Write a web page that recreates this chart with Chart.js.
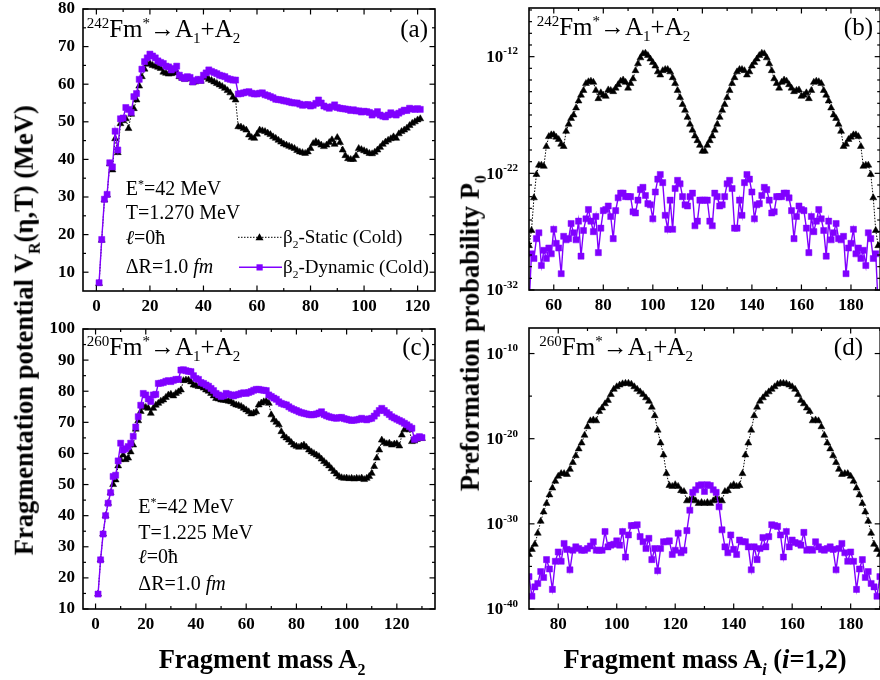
<!DOCTYPE html>
<html>
<head>
<meta charset="utf-8">
<title>Fm fragmentation potential and preformation probability</title>
<script src="https://cdn.jsdelivr.net/npm/chart.js@4.4.1/dist/chart.umd.min.js"></script>
<style>
  html, body { margin:0; padding:0; background:#fff; }
  body { width:880px; height:680px; overflow:hidden; position:relative; }
  canvas { position:absolute; }
  .t { position:absolute; font-family:"Liberation Serif","Times New Roman",serif; color:#000; white-space:nowrap; line-height:1; }
  .t sup, .t sub { font-size:0.6em; position:relative; vertical-align:baseline; line-height:0; }
  .t sup { top:-0.62em; }
  .t sub { top:0.42em; }
  .ttl { font-size:25px; }
  .par { font-size:20px; }
  .leg { font-size:19px; }
  .ax { font-size:26.5px; font-weight:bold; }
  .vt { width:600px; text-align:center; transform:rotate(-90deg); }
</style>
</head>
<body>
<canvas id="pa" width="445" height="320" style="left:0;top:0"></canvas>
<canvas id="pb" width="440" height="320" style="left:445px;top:0"></canvas>
<canvas id="pc" width="445" height="360" style="left:0;top:320px"></canvas>
<canvas id="pd" width="440" height="360" style="left:445px;top:320px"></canvas>

<!-- panel headings -->
<div class="t ttl" style="left:86.7px;top:16px"><sup>242</sup>Fm<sup>*</sup>→A<sub>1</sub>+A<sub>2</sub></div>
<div class="t ttl" style="right:452px;top:16px">(a)</div>
<div class="t ttl" style="left:536.7px;top:14px"><sup>242</sup>Fm<sup>*</sup>→A<sub>1</sub>+A<sub>2</sub></div>
<div class="t ttl" style="right:7px;top:14px">(b)</div>
<div class="t ttl" style="left:86.7px;top:334px"><sup>260</sup>Fm<sup>*</sup>→A<sub>1</sub>+A<sub>2</sub></div>
<div class="t ttl" style="right:450px;top:334px">(c)</div>
<div class="t ttl" style="left:539.3px;top:334px"><sup>260</sup>Fm<sup>*</sup>→A<sub>1</sub>+A<sub>2</sub></div>
<div class="t ttl" style="right:17px;top:334px">(d)</div>

<!-- reaction parameters -->
<div class="t par" style="left:125.7px;top:178.3px">E<sup>*</sup>=42 MeV</div>
<div class="t par" style="left:125.7px;top:201.6px">T=1.270 MeV</div>
<div class="t par" style="left:125.7px;top:227.3px"><i>ℓ</i>=0ħ</div>
<div class="t par" style="left:125.7px;top:255.6px">ΔR=1.0 <i>fm</i></div>

<div class="t par" style="left:138.3px;top:496px">E<sup>*</sup>=42 MeV</div>
<div class="t par" style="left:138.3px;top:521.6px">T=1.225 MeV</div>
<div class="t par" style="left:138.3px;top:546px"><i>ℓ</i>=0ħ</div>
<div class="t par" style="left:138.3px;top:573.3px">ΔR=1.0 <i>fm</i></div>

<!-- legend labels (symbols are drawn on the chart canvas) -->
<div class="t leg" style="left:283px;top:227px">β<sub>2</sub>-Static (Cold)</div>
<div class="t leg" style="left:283px;top:257px">β<sub>2</sub>-Dynamic (Cold)</div>

<!-- axis titles -->
<div class="t ax vt" style="left:-276px;top:317px">Fragmentation potential V<sub>R</sub>(η,T) (MeV)</div>
<div class="t ax vt" style="left:170px;top:320px">Preformation probability P<sub>0</sub></div>
<div class="t ax" style="left:62px;top:646px;width:400px;text-align:center">Fragment mass A<sub>2</sub></div>
<div class="t ax" style="left:505px;top:646px;width:400px;text-align:center">Fragment mass A<sub><i>i</i></sub> (<i>i</i>=1,2)</div>

<script>
// ---------------- data ----------------
// 242Fm* : fragmentation potential V_R (MeV) versus fragment mass A2 = 1..121
const a2Start242 = 1;
const vr242Static = [
  7.0, 18.5, 29.2, 30.5, 38.8, 37.2, 45.5, 41.8, 49.5, 50.3,
  50.8, 48.2, 52.0, 53.5, 55.8, 59.5, 62.0, 64.0, 65.3, 65.5,
  65.0, 64.8, 64.5, 64.2, 63.2, 62.9, 62.7, 62.8, 63.0, 63.3,
  62.0, 61.6, 61.3, 61.5, 61.4, 60.4, 60.6, 61.0, 60.8, 61.8,
  62.0, 61.3, 61.0, 60.6, 60.2, 59.8, 59.4, 58.9, 58.3, 57.7,
  56.5, 55.8, 48.7, 48.6, 48.2, 47.8, 46.5, 45.8, 45.6, 46.7,
  47.8, 47.6, 47.4, 47.0, 46.6, 46.0, 45.6, 45.1, 44.6, 44.1,
  43.8, 43.5, 43.2, 42.9, 42.4, 42.0, 41.8, 41.6, 42.0, 42.9,
  44.2, 44.7, 44.3, 43.8, 43.4, 43.8, 44.5, 45.2, 44.0, 45.8,
  44.5, 42.5, 41.0, 40.2, 40.0, 40.0, 41.0, 42.9, 42.6, 42.3,
  42.0, 41.6, 41.5, 41.9, 42.5, 43.2, 44.0, 44.6, 45.1, 45.5,
  46.0, 45.6, 46.8, 47.4, 47.8, 48.3, 49.0, 49.6, 50.0, 50.5, 50.8
];
const vr242Dynamic = [
  7.2, 18.7, 29.4, 30.7, 39.1, 38.0, 47.5, 42.5, 50.8, 51.0,
  53.8, 53.3, 52.5, 56.7, 57.5, 61.3, 64.0, 66.0, 67.0, 68.0,
  67.5, 67.0, 66.2, 65.8, 65.5, 64.8, 64.6, 63.8, 64.2, 64.8,
  62.4, 61.8, 61.5, 62.0, 61.8, 60.6, 61.0, 61.3, 61.0, 62.4,
  63.0, 63.8, 63.4, 63.1, 62.8, 62.4, 62.2, 62.0, 61.5, 61.3,
  61.1, 61.1, 57.4, 57.5, 57.7, 57.9, 58.0, 57.6, 57.4, 57.4,
  57.6, 57.7, 57.2, 57.0, 56.7, 56.4, 56.0, 55.9, 55.8, 55.6,
  55.5, 55.3, 55.1, 55.0, 55.0, 54.7, 54.4, 54.5, 54.6, 54.2,
  54.4, 54.9, 55.8, 55.0, 54.2, 53.9, 53.6, 54.0, 54.5, 53.8,
  53.6, 53.5, 53.4, 53.3, 53.0, 53.2, 52.9, 52.9, 52.6, 52.8,
  52.7, 52.5, 51.8, 52.2, 52.7, 51.8, 51.5, 51.3, 51.8, 52.4,
  52.0, 51.8, 52.3, 52.7, 53.1, 53.0, 53.6, 53.4, 53.3, 53.5, 53.3
];

// 260Fm* : fragmentation potential V_R (MeV) versus fragment mass A2 = 1..130
const a2Start260 = 1;
const vr260Static = [
  14.8, 25.8, 34.1, 40.0, 44.0, 47.4, 50.0, 51.5, 56.0, 58.0,
  59.5, 58.0, 58.5, 60.5, 62.7, 67.8, 70.5, 73.5, 75.1, 74.8,
  74.5, 72.9, 74.5, 75.5, 76.1, 76.8, 77.2, 78.0, 78.8, 79.0,
  78.5, 79.3, 79.8, 80.4, 83.4, 83.6, 83.6, 83.0, 82.0, 81.8,
  81.5, 81.5, 81.0, 80.4, 80.0, 79.3, 78.5, 77.7, 77.5, 77.2,
  77.1, 77.0, 76.8, 76.6, 76.0, 75.6, 75.4, 75.1, 74.5, 74.0,
  73.4, 72.7, 73.0, 73.4, 75.6, 76.2, 76.6, 76.8, 76.1, 72.4,
  70.8, 70.0, 69.2, 67.0, 65.6, 65.0, 64.3, 63.5, 62.7, 62.3,
  62.0, 62.4, 62.7, 62.0, 61.1, 60.5, 60.0, 59.5, 59.0, 58.2,
  57.4, 56.7, 56.0, 55.1, 54.2, 53.4, 52.6, 52.2, 52.0, 52.1,
  51.9, 52.0, 51.8, 52.0, 51.9, 52.1, 51.6, 52.0, 52.6, 53.6,
  55.8, 58.5, 61.1, 64.3, 63.5, 63.1, 63.3, 62.7, 63.0, 63.1,
  62.4, 65.9, 67.6, 68.0, 67.6, 63.8, 64.0, 64.5, 65.0, 64.8
];
const vr260Dynamic = [
  14.8, 25.8, 34.1, 40.0, 44.0, 47.4, 52.6, 53.0, 57.6, 63.3,
  61.1, 61.5, 62.2, 63.3, 65.5, 68.5, 71.8, 75.5, 79.3, 78.8,
  77.5, 76.7, 78.8, 79.0, 82.5, 82.6, 82.8, 83.2, 83.4, 83.1,
  83.5, 83.8, 83.8, 86.8, 86.9, 86.6, 86.4, 86.3, 85.0, 84.1,
  83.8, 82.8, 82.5, 82.0, 81.6, 80.9, 80.2, 79.3, 78.8, 78.3,
  78.5, 79.3, 79.0, 78.8, 78.5, 78.8, 79.0, 79.3, 79.5, 79.3,
  79.6, 79.9, 80.3, 80.6, 80.6, 80.4, 80.3, 80.2, 78.8, 78.3,
  77.8, 77.4, 76.6, 76.1, 75.8, 75.6, 75.0, 74.5, 74.1, 73.8,
  73.4, 73.1, 72.9, 72.7, 72.5, 72.4, 72.5, 72.7, 73.0, 73.4,
  72.5, 72.1, 71.8, 71.6, 71.4, 71.3, 71.5, 71.6, 71.2, 71.0,
  70.8, 70.6, 70.7, 70.8, 71.0, 71.3, 71.0, 70.8, 71.1, 71.3,
  72.0, 72.9, 73.8, 74.5, 73.8, 73.1, 72.5, 71.8, 71.4, 71.0,
  70.6, 70.2, 69.7, 69.2, 68.6, 68.1, 64.5, 65.0, 65.4, 65.1
];

// 242Fm* : log10 of preformation probability P0 versus A_i = 50..191
const aiStart242 = 50;
const log10P0_242Static = [
  -28.2, -26.9, -24.1, -22.1, -21.3, -21.3, -21.4, -19.7, -18.85, -18.7,
  -18.7, -18.9, -19.1, -19.5, -19.7, -18.4, -17.8, -17.3, -17.0, -16.4,
  -15.8, -15.3, -14.9, -14.3, -14.15, -14.1, -14.2, -14.9, -15.6, -15.1,
  -15.3, -15.4, -14.85, -14.9, -15.0, -14.7, -14.4, -14.1, -14.0, -14.2,
  -14.7, -14.3, -13.9, -13.2, -12.6, -12.1, -11.75, -11.71, -11.9, -12.2,
  -12.5, -12.8, -13.3, -13.57, -13.2, -13.1, -13.1, -13.3, -13.8, -14.3,
  -14.9, -15.5, -16.1, -16.6, -17.2, -17.8, -18.3, -18.8, -19.2, -19.6,
  -20.1, -20.1, -19.6, -19.2, -18.8, -18.3, -17.8, -17.2, -16.6, -16.1,
  -15.5, -14.9, -14.3, -13.8, -13.3, -13.1, -13.1, -13.2, -13.57, -13.3,
  -12.8, -12.5, -12.2, -11.9, -11.71, -11.75, -12.1, -12.6, -13.2, -13.9,
  -14.3, -14.7, -14.2, -14.0, -14.1, -14.4, -14.7, -15.0, -14.9, -14.85,
  -15.4, -15.3, -15.1, -15.6, -14.9, -14.2, -14.1, -14.15, -14.3, -14.9,
  -15.3, -15.8, -16.4, -17.0, -17.3, -17.8, -18.4, -19.7, -19.5, -19.1,
  -18.9, -18.7, -18.7, -18.85, -19.7, -21.4, -21.3, -21.3, -22.1, -24.1,
  -26.9, -28.2
];
const log10P0_242Dynamic = [
  -33.5, -28.9, -29.3, -27.6, -27.1, -29.9, -28.6, -29.3, -28.4, -28.9,
  -26.8, -28.0, -28.4, -30.6, -27.4, -27.7, -27.6, -26.3, -27.1, -27.7,
  -26.1, -29.1, -26.9, -25.9, -25.1, -26.1, -27.0, -25.7, -28.8, -26.7,
  -25.2, -25.1, -24.8, -25.7, -27.6, -25.2, -24.1, -23.7, -23.7, -24.0,
  -24.0, -24.0, -25.3, -25.4, -24.3, -23.4, -23.2, -23.9, -24.6, -24.7,
  -25.9, -23.6, -22.5, -22.1, -22.8, -25.6, -26.8, -24.3, -26.8, -23.3,
  -22.6, -22.9, -24.0, -24.7, -24.8, -24.0, -23.7, -26.5, -26.1, -24.3,
  -24.3, -24.3, -24.3, -26.1, -26.5, -23.7, -24.0, -24.8, -24.7, -24.0,
  -22.9, -22.6, -23.3, -26.7, -26.7, -24.3, -25.6, -22.8, -22.1, -22.5,
  -23.6, -25.9, -24.7, -24.6, -23.9, -23.2, -23.4, -24.3, -25.4, -25.3,
  -24.0, -24.0, -24.0, -23.7, -23.7, -24.1, -25.2, -27.6, -25.7, -24.8,
  -25.1, -25.2, -26.7, -28.8, -25.7, -27.0, -26.1, -25.1, -25.9, -26.9,
  -29.1, -26.1, -27.7, -27.1, -26.3, -27.6, -27.7, -27.4, -30.6, -28.4,
  -28.0, -26.8, -28.9, -28.4, -29.3, -28.6, -29.9, -27.1, -27.6, -29.3,
  -28.9, -33.5
];

// 260Fm* : log10 of preformation probability P0 versus A_i = 70..190
const aiStart260 = 70;
const log10P0_260Static = [
  -33.6, -33.0, -32.4, -31.1, -29.7, -28.6, -27.6, -26.6, -25.8, -25.0,
  -24.4, -24.1, -24.1, -24.2, -23.6, -22.8, -22.0, -21.2, -20.5, -19.6,
  -18.6, -17.9, -17.8, -17.9, -16.8, -16.4, -15.9, -15.5, -14.8, -14.2,
  -13.9, -13.7, -13.55, -13.5, -13.5, -13.6, -13.9, -14.2, -14.5, -14.8,
  -15.2, -15.6, -16.3, -17.3, -19.0, -20.5, -21.9, -24.1, -25.5, -25.6,
  -25.4, -25.6, -26.1, -26.2, -27.3, -27.2, -27.0, -27.3, -27.6, -27.5,
  -27.6, -27.5, -27.6, -27.3, -27.0, -27.2, -27.3, -26.2, -26.1, -25.6,
  -25.4, -25.6, -25.5, -24.1, -21.9, -20.5, -19.0, -17.3, -16.3, -15.6,
  -15.2, -14.8, -14.5, -14.2, -13.9, -13.6, -13.5, -13.5, -13.55, -13.7,
  -13.9, -14.2, -14.8, -15.5, -15.9, -16.4, -16.8, -17.9, -17.8, -17.9,
  -18.6, -19.6, -20.5, -21.2, -22.0, -22.8, -23.6, -24.2, -24.1, -24.1,
  -24.4, -25.0, -25.8, -26.6, -27.6, -28.6, -29.7, -31.1, -32.4, -33.0,
  -33.6
];
const log10P0_260Dynamic = [
  -36.2, -38.5, -37.4, -37.0, -35.6, -36.3, -34.2, -35.3, -37.7, -34.4,
  -33.3, -34.4, -32.3, -33.0, -35.4, -33.1, -32.7, -32.9, -33.1, -33.1,
  -32.9, -32.6, -32.1, -33.1, -33.1, -33.1, -30.9, -32.7, -32.5, -32.4,
  -32.0, -32.5, -30.9, -33.9, -31.3, -30.2, -30.2, -30.1, -31.5, -32.1,
  -32.9, -31.7, -34.2, -32.9, -35.5, -32.9, -32.1, -32.1, -32.0, -33.6,
  -33.1, -31.1, -33.4, -33.1, -30.8, -28.4, -26.3, -26.0, -25.5, -25.4,
  -26.2, -25.4, -25.5, -26.0, -26.3, -28.0, -30.7, -32.7, -33.4, -31.3,
  -33.0, -33.6, -31.9, -32.1, -32.1, -32.7, -35.4, -32.7, -34.2, -32.9,
  -31.6, -32.7, -31.5, -30.1, -30.2, -30.3, -31.3, -33.9, -30.9, -32.7,
  -31.9, -32.2, -32.3, -32.5, -31.0, -33.1, -33.0, -33.1, -32.1, -32.7,
  -33.0, -33.1, -32.9, -32.7, -33.0, -35.4, -32.9, -32.3, -33.4, -34.4,
  -33.3, -34.4, -37.7, -35.3, -34.2, -36.3, -35.6, -37.0, -37.4, -38.5,
  -36.2
];

// axis tick values
const xTicksA = [0, 20, 40, 60, 80, 100, 120];
const xMinorA = [10, 30, 50, 70, 90, 110];
const yTicksA = [10, 20, 30, 40, 50, 60, 70, 80];
const yMinorA = [15, 25, 35, 45, 55, 65, 75];
const xTicksC = [0, 20, 40, 60, 80, 100, 120];
const xMinorC = [10, 30, 50, 70, 90, 110, 130];
const yTicksC = [10, 20, 30, 40, 50, 60, 70, 80, 90, 100];
const yMinorC = [15, 25, 35, 45, 55, 65, 75, 85, 95];
const xTicksB = [60, 80, 100, 120, 140, 160, 180];
const xMinorB = [70, 90, 110, 130, 150, 170, 190];
const yExpB = [-32, -22, -12];
const yMinorExpB = [-31,-30,-29,-28,-27,-26,-25,-24,-23,-21,-20,-19,-18,-17,-16,-15,-14,-13,-11,-10,-9,-8];
const xTicksD = [80, 100, 120, 140, 160, 180];
const xMinorD = [90, 110, 130, 150, 170, 190];
const yExpD = [-40, -30, -20, -10];
const yMinorExpD = [-35, -25, -15];

// ---------------- drawing ----------------
const FONT = "'Liberation Serif', 'Times New Roman', serif";
const VIOLET = '#8000ff';

function series(start, vals, asPower) {
  return vals.map((v, i) => ({ x: start + i, y: asPower ? Math.pow(10, v) : v }));
}
function staticSet(pts) {
  return { label: 'β2-Static (Cold)', data: pts, borderColor: '#000', borderWidth: 1, borderDash: [1.5, 1.5],
    pointStyle: 'triangle', pointRadius: 4, pointBackgroundColor: '#000', pointBorderColor: '#000',
    pointBorderWidth: 0.5, tension: 0, clip: 0 };
}
function dynamicSet(pts) {
  return { label: 'β2-Dynamic (Cold)', data: pts, borderColor: VIOLET, borderWidth: 1.4,
    pointStyle: 'rect', pointRadius: 4.3, pointBackgroundColor: VIOLET, pointBorderColor: VIOLET,
    pointBorderWidth: 0.5, tension: 0, clip: 0 };
}

function line(ctx, x1, y1, x2, y2) { ctx.beginPath(); ctx.moveTo(x1, y1); ctx.lineTo(x2, y2); ctx.stroke(); }

// frame, inward ticks, power-of-ten labels and the in-plot legend
const panelFrame = {
  id: 'panelFrame',
  afterDraw(chart, args, o) {
    const { ctx, chartArea: a, scales: { x, y } } = chart;
    const yv = v => o.log ? Math.pow(10, v) : v;
    ctx.save();
    ctx.strokeStyle = '#000';
    ctx.lineWidth = 1.2;
    for (const [vals, len] of [[o.xMajor, 5.5], [o.xMinor, 3]]) {
      for (const v of vals) {
        const px = x.getPixelForValue(v);
        line(ctx, px, a.bottom, px, a.bottom - len);
        line(ctx, px, a.top, px, a.top + len);
      }
    }
    for (const [vals, len] of [[o.yMajor, 5.5], [o.yMinor, 3]]) {
      for (const v of vals) {
        const py = y.getPixelForValue(yv(v));
        line(ctx, a.left, py, a.left + len, py);
        line(ctx, a.right, py, a.right - len, py);
      }
    }
    ctx.lineWidth = 1.6;
    ctx.strokeRect(a.left, a.top, a.right - a.left, a.bottom - a.top);

    if (o.log) {
      ctx.fillStyle = '#000';
      ctx.textBaseline = 'middle';
      ctx.textAlign = 'left';
      for (const e of o.yMajor) {
        const py = y.getPixelForValue(Math.pow(10, e));
        const sup = String(e);
        ctx.font = 'bold 11px ' + FONT;
        const sw = ctx.measureText(sup).width;
        ctx.font = 'bold 17px ' + FONT;
        const bw = ctx.measureText('10').width;
        const right = a.left - 11;
        ctx.fillText('10', right - sw - bw, py + 1);
        ctx.font = 'bold 11px ' + FONT;
        ctx.fillText(sup, right - sw, py - 5);
      }
    }

    if (o.legend) {
      // static sample: dotted line with filled triangle
      ctx.strokeStyle = '#000';
      ctx.lineWidth = 1;
      ctx.setLineDash([1.5, 1.5]);
      line(ctx, 238, 237.3, 282, 237.3);
      ctx.setLineDash([]);
      ctx.fillStyle = '#000';
      ctx.beginPath();
      ctx.moveTo(259.5, 233.3); ctx.lineTo(263.5, 240.3); ctx.lineTo(255.5, 240.3); ctx.closePath();
      ctx.fill();
      // dynamic sample: solid violet line with filled square
      ctx.strokeStyle = VIOLET;
      ctx.lineWidth = 1.4;
      line(ctx, 239, 267.3, 282, 267.3);
      ctx.fillStyle = VIOLET;
      ctx.fillRect(256.5, 264.3, 6.2, 6.2);
    }
    ctx.restore();
  }
};

function makePanel(id, cfg) {
  const tickFont = { family: FONT, size: 17, weight: 'bold', lineHeight: 1 };
  return new Chart(document.getElementById(id), {
    type: 'line',
    data: { datasets: [dynamicSet(cfg.dynamic), staticSet(cfg.stat)] },
    options: {
      responsive: false, animation: false, events: [], devicePixelRatio: 1,
      layout: { padding: { top: cfg.padTop, right: cfg.padRight, left: 0, bottom: 0 } },
      plugins: {
        legend: { display: false }, tooltip: { enabled: false },
        panelFrame: { xMajor: cfg.xMajor, xMinor: cfg.xMinor, yMajor: cfg.yMajor, yMinor: cfg.yMinor,
                      log: cfg.log, legend: !!cfg.legend }
      },
      scales: {
        x: {
          type: 'linear', min: cfg.xMin, max: cfg.xMax,
          grid: { display: false, drawTicks: false }, border: { display: false },
          afterBuildTicks: s => { s.ticks = cfg.xMajor.map(v => ({ value: v })); },
          afterFit: s => { s.height = cfg.xH; s.paddingLeft = 0; s.paddingRight = 0; },
          ticks: { color: '#000', font: tickFont, padding: 7, maxRotation: 0, autoSkip: false,
                   callback: v => String(v) }
        },
        y: {
          type: cfg.log ? 'logarithmic' : 'linear', min: cfg.yMin, max: cfg.yMax,
          grid: { display: false, drawTicks: false }, border: { display: false },
          afterBuildTicks: s => { s.ticks = cfg.yMajor.map(v => ({ value: cfg.log ? Math.pow(10, v) : v })); },
          afterFit: s => { s.width = cfg.yW; s.paddingTop = 0; s.paddingBottom = 0; },
          ticks: { display: !cfg.log, color: '#000', font: tickFont, padding: 8, autoSkip: false,
                   callback: v => String(v) }
        }
      }
    },
    plugins: [panelFrame]
  });
}

makePanel('pa', {
  stat: series(a2Start242, vr242Static), dynamic: series(a2Start242, vr242Dynamic),
  xMin: -5, xMax: 126.5, yMin: 5, yMax: 80, log: false,
  xMajor: xTicksA, xMinor: xMinorA, yMajor: yTicksA, yMinor: yMinorA,
  yW: 83, xH: 29, padTop: 9, padRight: 10, legend: true
});
makePanel('pc', {
  stat: series(a2Start260, vr260Static), dynamic: series(a2Start260, vr260Dynamic),
  xMin: -5, xMax: 135.2, yMin: 10, yMax: 100, log: false,
  xMajor: xTicksC, xMinor: xMinorC, yMajor: yTicksC, yMinor: yMinorC,
  yW: 83, xH: 71, padTop: 9, padRight: 10
});
makePanel('pb', {
  stat: series(aiStart242, log10P0_242Static, true), dynamic: series(aiStart242, log10P0_242Dynamic, true),
  xMin: 50, xMax: 191.8, yMin: 1e-32, yMax: Math.pow(10, -7.83), log: true,
  xMajor: xTicksB, xMinor: xMinorB, yMajor: yExpB, yMinor: yMinorExpB,
  yW: 84, xH: 30, padTop: 8, padRight: 4
});
makePanel('pd', {
  stat: series(aiStart260, log10P0_260Static, true), dynamic: series(aiStart260, log10P0_260Dynamic, true),
  xMin: 70, xMax: 190.1, yMin: 1e-40, yMax: 1e-7, log: true,
  xMajor: xTicksD, xMinor: xMinorD, yMajor: yExpD, yMinor: yMinorExpD,
  yW: 84, xH: 71, padTop: 8, padRight: 4
});
</script>
</body>
</html>
